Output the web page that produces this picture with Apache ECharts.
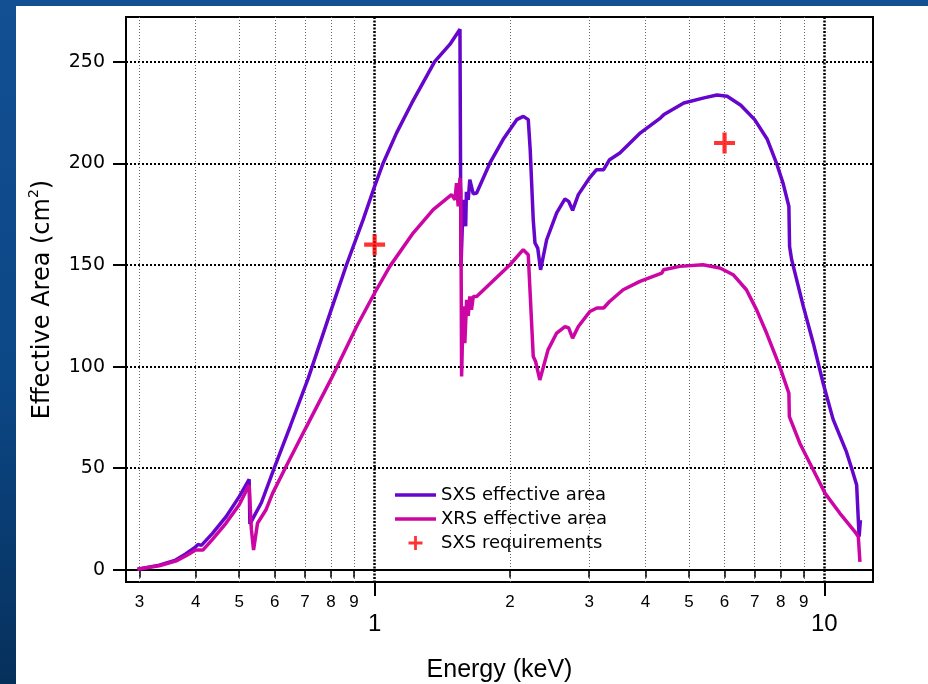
<!DOCTYPE html>
<html>
<head>
<meta charset="utf-8">
<title>Effective Area</title>
<script src="https://cdn.jsdelivr.net/npm/echarts@6/dist/echarts.min.js"></script>
<style>
  body { margin: 0; width: 928px; height: 684px; overflow: hidden;
         background: linear-gradient(180deg, #124f93 0%, #0c4786 55%, #06305c 100%); }
  #panel { position: absolute; left: 16px; top: 6px; right: 0; bottom: 0; background: #fff; }
  #main { position: absolute; left: 0; top: 0; width: 928px; height: 684px; }
</style>
</head>
<body>
<div id="panel"></div>
<div id="main"></div>
<script>
// SXS effective area (keV, cm2)
var sxsEnergy = [0.297, 0.332, 0.361, 0.38, 0.40, 0.405, 0.412, 0.436, 0.467, 0.50, 0.526, 0.528, 0.540, 0.56, 0.598,
  0.65, 0.712, 0.796, 0.866, 0.943, 1.0, 1.045, 1.119, 1.21, 1.36, 1.47, 1.548, 1.556, 1.574, 1.59, 1.594, 1.60,
  1.615, 1.628, 1.657, 1.686, 1.805, 1.93, 2.07, 2.141, 2.196, 2.218, 2.253, 2.273, 2.305, 2.339, 2.413, 2.54, 2.65,
  2.70, 2.756, 2.838, 3.01, 3.115, 3.23, 3.33, 3.51, 3.90, 4.325, 4.40, 4.87, 5.40, 5.77, 6.08, 6.52, 7.0, 7.46,
  7.83, 8.10, 8.34, 8.37, 8.46, 8.98, 9.45, 9.94, 10.46, 11.2, 11.5, 11.8, 11.95, 12.03];
var sxsArea = [0.3, 2.3, 4.8, 7.8, 11.3, 12.5, 12.0, 17.9, 26, 36, 44.5, 22.5, 26.5, 33, 50,
  71, 94.3, 126.3, 150.1, 172.3, 188.7, 200.2, 215, 229.7, 250, 258.5, 266, 149, 182, 182, 169, 186,
  182, 192, 185, 185.4, 200.2, 211.7, 221.5, 223.1, 221.5, 206.7, 172, 160.8, 158.3, 147.6, 162.4, 175.6, 182.5,
  181.3, 176.9, 184.6, 193, 196.9, 196.9, 201.8, 205.1, 215, 222.4, 224, 229.7, 232.2, 233.6, 233, 228.6, 221.5, 212,
  200, 190, 178.8, 159.1, 152.6, 129.6, 111.5, 91.8, 74, 58, 50, 41.7, 16.3, 24.5];

// XRS effective area (keV, cm2)
var xrsEnergy = [0.297, 0.332, 0.361, 0.38, 0.40, 0.415, 0.436, 0.467, 0.50, 0.526, 0.532, 0.538, 0.549, 0.573, 0.593,
  0.635, 0.70, 0.802, 0.912, 1.0, 1.081, 1.218, 1.35, 1.483, 1.509, 1.521, 1.534, 1.548, 1.555, 1.561,
  1.574, 1.587, 1.602, 1.615, 1.628, 1.642, 1.657, 1.686, 2.0, 2.14, 2.196, 2.253, 2.28, 2.33, 2.43, 2.54, 2.65,
  2.70, 2.756, 2.838, 3.01, 3.12, 3.23, 3.33, 3.57, 3.89, 4.35, 4.39, 4.77, 5.37, 5.86, 6.27, 6.71, 7.07, 7.44,
  7.96, 8.34, 8.36, 8.82, 9.45, 10.04, 10.83, 11.7, 11.9, 12.0];
var xrsArea = [0.3, 2.0, 4.3, 6.8, 9.7, 9.7, 15, 22.9, 32, 41.7, 20, 9.7, 22.9, 29.4, 37.6,
  50.7, 69, 94.3, 119.7, 136.2, 149.3, 165.7, 177.2, 184.6, 182, 190.3, 178.8, 192.8, 186, 95.1,
  129.6, 111.5, 132.9, 125, 134.5, 128, 134.5, 134.5, 150.1, 157.5, 155, 104.9, 102.5, 93.4, 108.2, 116.5, 119.7,
  119, 114, 119.7, 127.1, 128.8, 128.8, 132, 137.8, 141.9, 146, 147.6, 149.3, 150.1, 148.5, 145.2, 137.8, 127.9, 116.5,
  100, 86.9, 75.4, 62.3, 49.1, 37.6, 27.8, 18.7, 16.3, 3.9];

// SXS requirements
var reqEnergy = [1, 6];
var reqArea = [160, 210];

// ticks
var minorTicks = [0.3, 0.4, 0.5, 0.6, 0.7, 0.8, 0.9, 2, 3, 4, 5, 6, 7, 8, 9];
var majorTicks = [1, 10];
var yTicks = [0, 50, 100, 150, 200, 250];

function pairs(xs, ys) {
  return xs.map(function (x, i) { return [x, ys[i]]; });
}

var plus = 'path://M0,8H20V12H0Z M8,0H12V20H8Z';
var lineIcon = 'path://M0,0H41V3.5H0Z';

var option = {
  animation: false,
  grid: {
    left: 126, top: 17, right: 55, bottom: 102,
    outerBoundsMode: 'none',
    show: true, borderColor: '#000', borderWidth: 2, backgroundColor: '#fff'
  },
  legend: {
    orient: 'vertical',
    left: 390, top: 481,
    itemWidth: 41, itemHeight: 14, itemGap: 6,
    textStyle: { fontFamily: 'DejaVu Sans', fontSize: 18, color: '#000' },
    data: [
      { name: 'SXS effective area', icon: lineIcon },
      { name: 'XRS effective area', icon: lineIcon },
      { name: 'SXS requirements' }
    ]
  },
  xAxis: [
    {
      // minor decades: 3..9, 2..9
      type: 'log', logBase: 10, min: 0.28, max: 12.83, position: 'bottom',
      name: 'Energy (keV)', nameLocation: 'middle', nameGap: 76,
      nameTextStyle: { fontFamily: 'Liberation Sans', fontSize: 25, color: '#000' },
      axisLine: { show: true, lineStyle: { color: '#000', width: 2 } },
      axisTick: { show: true, length: 8, customValues: minorTicks, lineStyle: { color: '#000', width: 1.5 } },
      axisLabel: {
        customValues: minorTicks, margin: 12,
        fontFamily: 'Liberation Sans', fontSize: 17, color: '#000',
        formatter: function (v) {
          var e = Math.floor(Math.log10(v) + 1e-9);
          return String(Math.round(v / Math.pow(10, e)));
        }
      },
      splitLine: { show: true, lineStyle: { color: '#666', width: 1, type: [1, 2] } }
    },
    {
      // 1 and 10
      type: 'log', logBase: 10, min: 0.28, max: 12.83, position: 'bottom',
      axisLine: { show: false },
      axisTick: { show: true, length: 14, customValues: majorTicks, lineStyle: { color: '#000', width: 2 } },
      axisLabel: {
        customValues: majorTicks, margin: 30,
        fontFamily: 'Liberation Sans', fontSize: 24, color: '#000',
        formatter: function (v) { return String(Math.round(v)); }
      },
      splitLine: { show: true, lineStyle: { color: '#000', width: 2.5, type: [2, 1.5] } }
    }
  ],
  yAxis: {
    type: 'value', min: -6, max: 272,
    name: 'Effective Area (cm{sup|2})', nameLocation: 'middle', nameGap: 67,
    nameTextStyle: {
      fontFamily: 'DejaVu Sans', fontSize: 24, color: '#000',
      rich: { sup: { fontFamily: 'DejaVu Sans', fontSize: 14, color: '#000', padding: [0, 0, 18, 0] } }
    },
    axisLine: { show: true, lineStyle: { color: '#000', width: 2 } },
    axisTick: { show: true, length: 13, customValues: yTicks, lineStyle: { color: '#000', width: 2 } },
    axisLabel: { customValues: yTicks, margin: 21, fontFamily: 'DejaVu Sans', fontSize: 19, color: '#000' },
    splitLine: { show: true, lineStyle: { color: '#000', width: 2, type: [2, 2] } }
  },
  series: [
    {
      name: 'SXS effective area', type: 'line', xAxisIndex: 0,
      data: pairs(sxsEnergy, sxsArea),
      symbol: 'none', color: '#6606cc',
      lineStyle: { width: 3.5, color: '#6606cc' }
    },
    {
      name: 'XRS effective area', type: 'line', xAxisIndex: 0,
      data: pairs(xrsEnergy, xrsArea),
      symbol: 'none', color: '#cc06a4',
      lineStyle: { width: 3.5, color: '#cc06a4' }
    },
    {
      name: 'SXS requirements', type: 'scatter', xAxisIndex: 0,
      data: pairs(reqEnergy, reqArea),
      symbol: plus, symbolSize: 21,
      itemStyle: { color: '#ff0000' }
    }
  ]
};

echarts.init(document.getElementById('main')).setOption(option);
</script>
</body>
</html>
